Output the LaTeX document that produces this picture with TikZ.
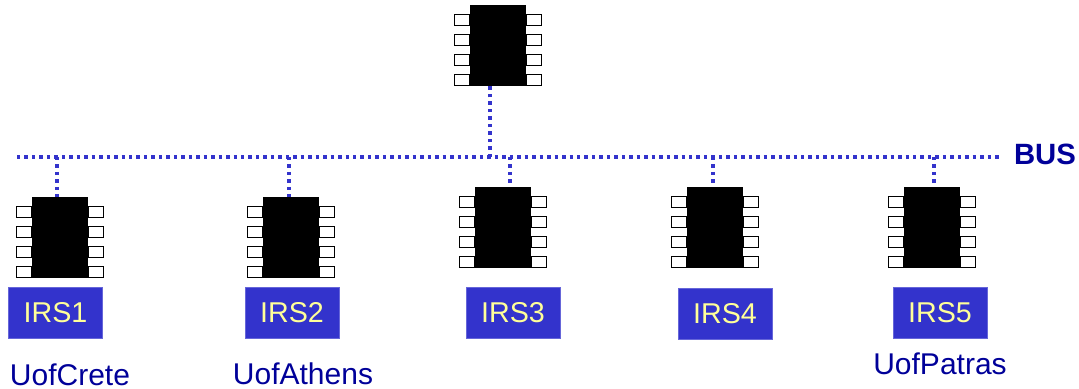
\documentclass[tikz,border=0pt]{standalone}
\usepackage{fontspec}
\setmainfont{Liberation Sans}
\definecolor{busblue}{HTML}{3333CC}
\definecolor{labelblue}{HTML}{000099}
\definecolor{irsyellow}{HTML}{FFFF99}
\tikzset{
	chipbody/.style={fill=black,inner sep=0pt,minimum width=42pt,minimum height=60.75pt},
	chippin/.style={draw=black,fill=white,line width=0.8pt,inner sep=0pt,outer sep=0pt,minimum width=11.25pt,minimum height=8.25pt},
	busline/.style={draw=busblue,line width=2.6pt,dash pattern=on 2.6pt off 3pt},
	irsbox/.style={fill=busblue,draw=busblue!75!white,line width=0.5pt,text=irsyellow,inner sep=0pt,minimum width=70.5pt,minimum height=38pt,font=\fontsize{21.5}{25}\selectfont},
	unilabel/.style={text=labelblue,inner sep=0pt,font=\fontsize{22.5}{26}\selectfont},
}
\begin{document}
\begin{tikzpicture}[x=0.75pt,y=-0.75pt]
	\useasboundingbox (0,0) rectangle (1079,389);
	% bus and the main chip
	\coordinate (busl) at (17,157);
	\coordinate (busr) at (1001,157);
	\draw[busline] (busl) -- (busr);
	\node[unilabel,font=\fontsize{22}{25}\selectfont\bfseries] (buslabel) at (1045,154) {BUS};
	\node[chipbody] (chipm) at (498,45.5) {};
	\coordinate (tapm) at (490,157);
	\draw[busline] (tapm) -- (tapm |- chipm.south);
	% the five IRS chips
	\foreach \n/\cx/\cy/\tx/\bx/\by in {1/60/237.5/57/55.5/313,2/291/237.5/289/292/312.5,3/503/227.5/510/513/313,4/715/227.5/713/725/314,5/932/227.5/934/940/313}{
		\node[chipbody] (chip\n) at (\cx,\cy) {};
		\coordinate (tap\n) at (\tx,157);
		\draw[busline] (tap\n) -- (tap\n |- chip\n.north);
		\node[irsbox] (irs\n) at (\bx,\by) {IRS\n};
	}
	% pins
	\foreach \c in {m,1,2,3,4,5}{
		\foreach \p/\d in {a/15.5,b/35.5,c/55.5,d/75.5}{
			\node[chippin,anchor=east] (pinl\c\p) at ([yshift=-\d*0.75pt]chip\c.north west) {};
			\node[chippin,anchor=west] (pinr\c\p) at ([yshift=-\d*0.75pt]chip\c.north east) {};
		}
	}
	\node[unilabel] (crete) at (70,375) {UofCrete};
	\node[unilabel] (athens) at (303,374) {UofAthens};
	\node[unilabel] (patras) at (940,364) {UofPatras};
\end{tikzpicture}
\end{document}
